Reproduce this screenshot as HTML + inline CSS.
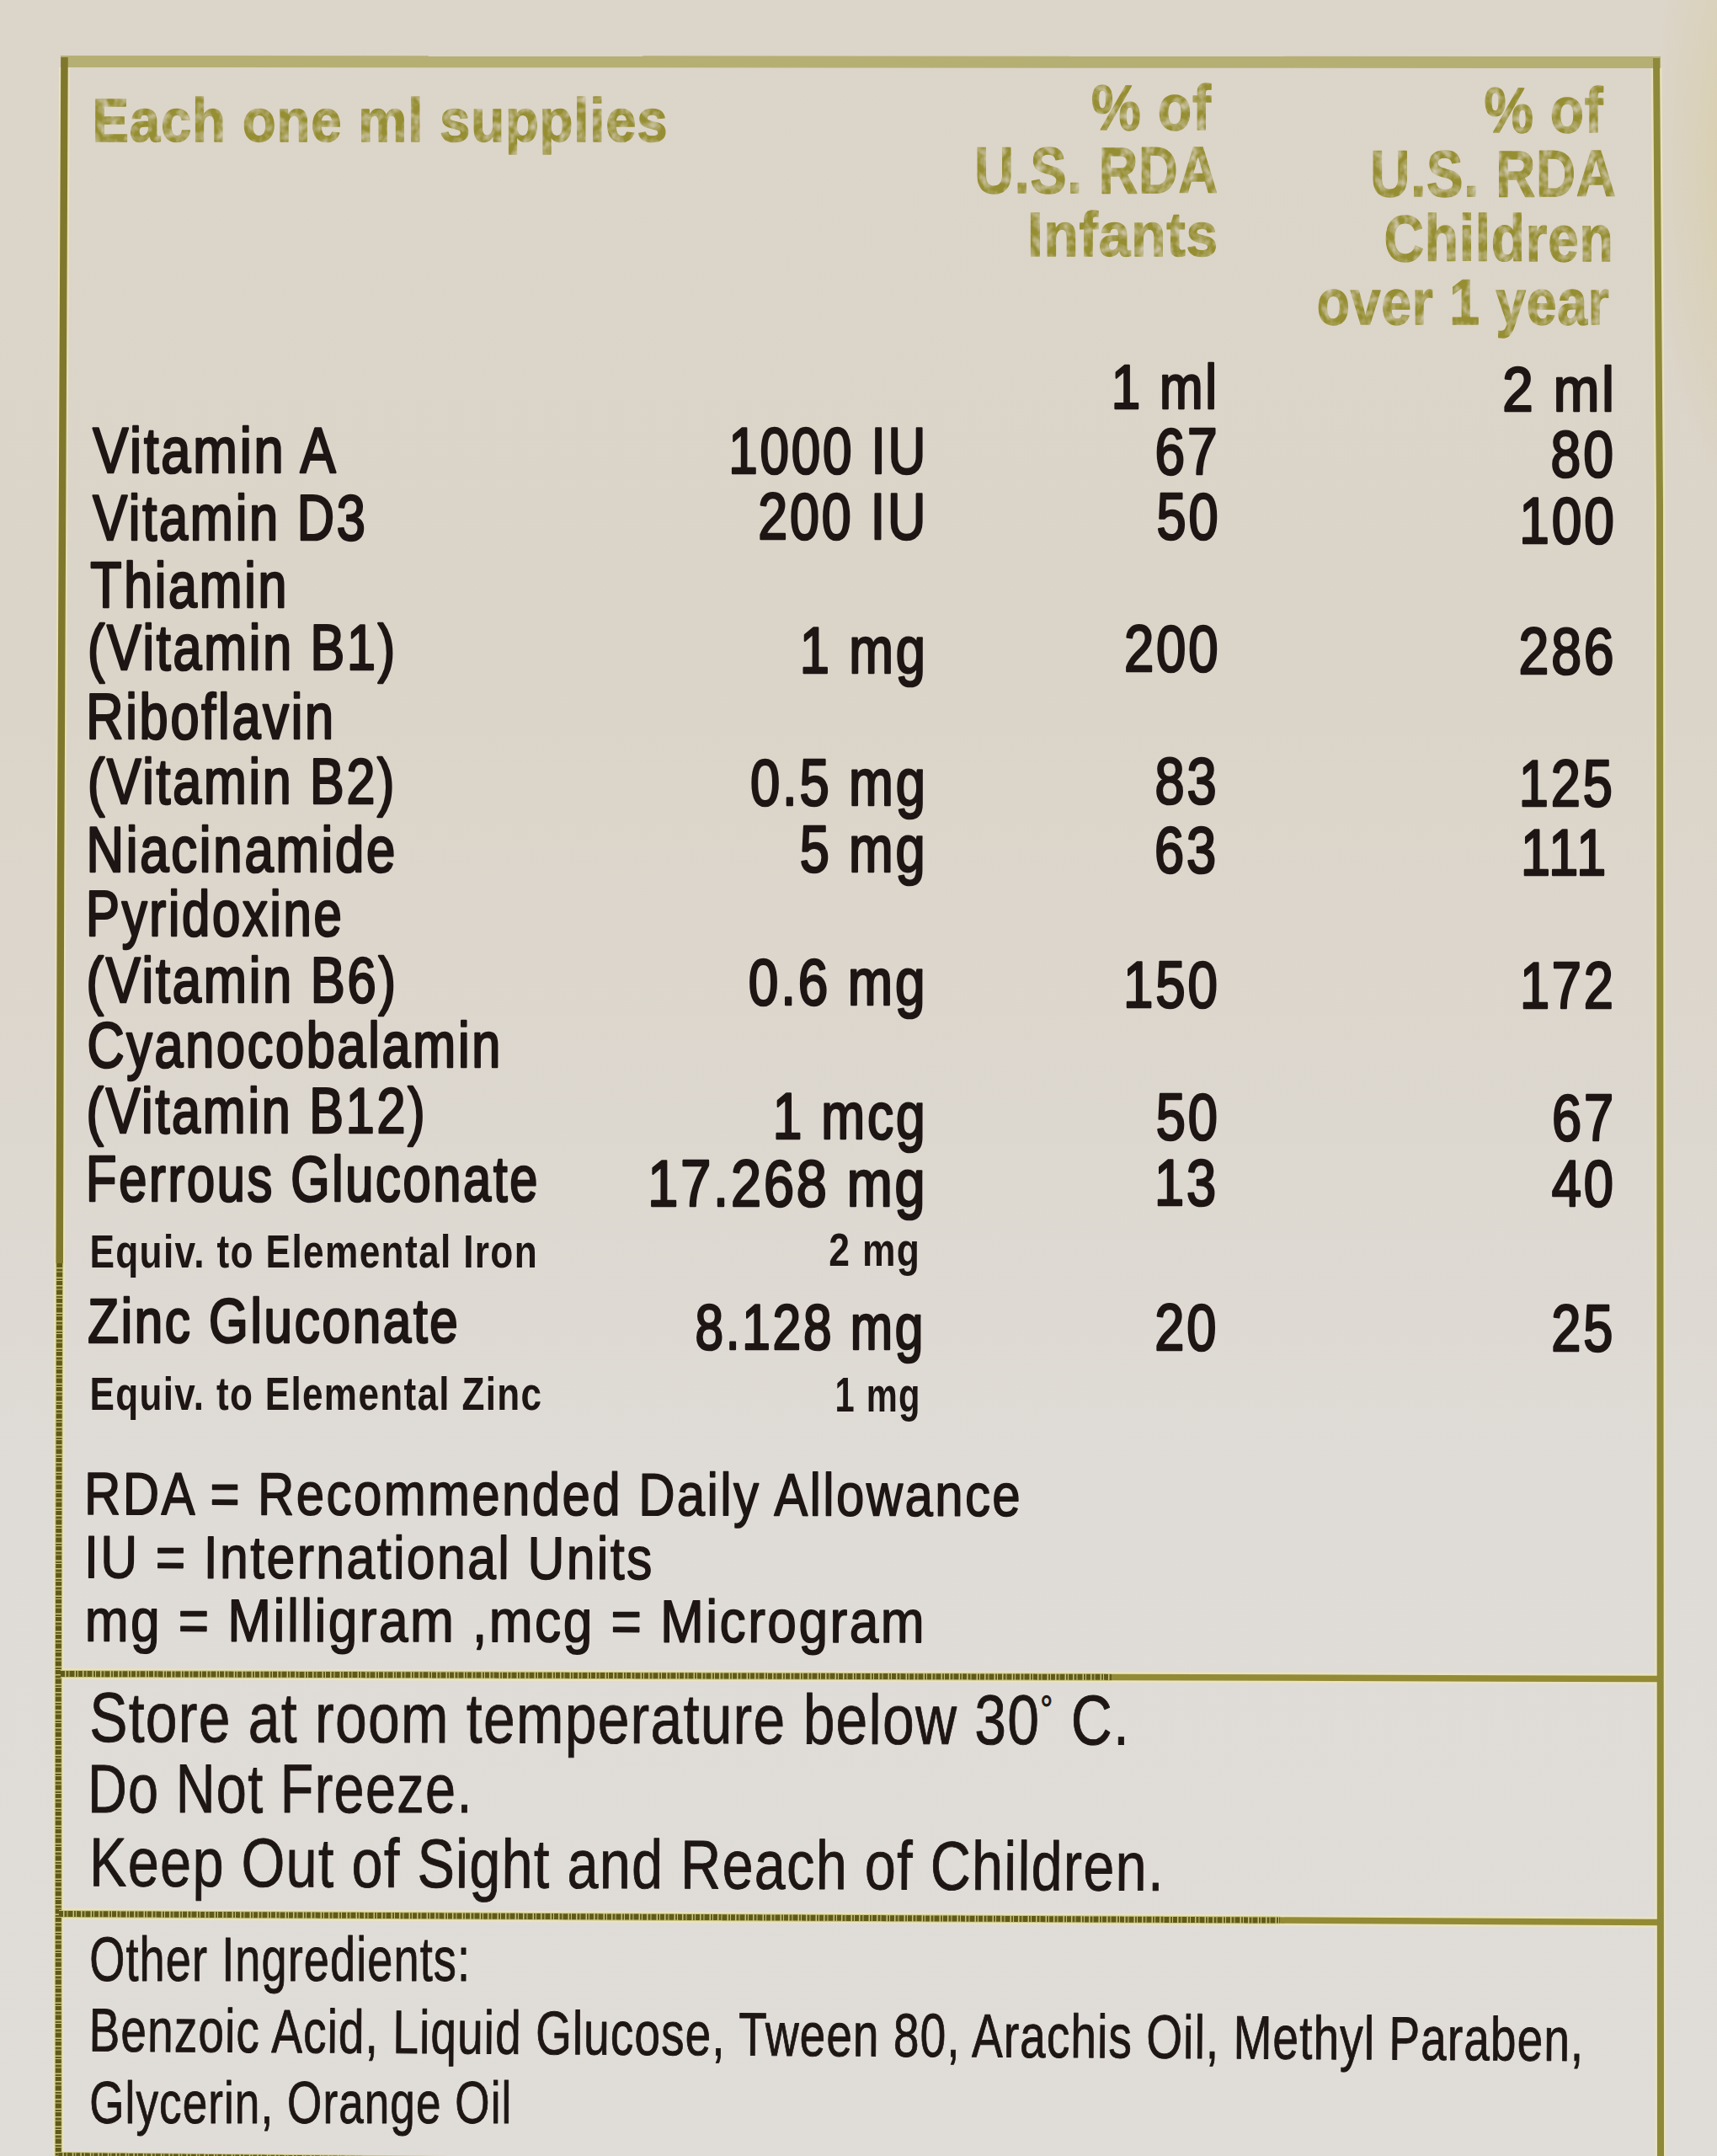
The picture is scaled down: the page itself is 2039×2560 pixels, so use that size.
<!DOCTYPE html>
<html><head><meta charset="utf-8">
<style>
html,body{margin:0;padding:0;width:2039px;height:2560px;overflow:hidden;background:#ddd8cd;}
svg{display:block;position:absolute;left:0;top:0;}
text{font-family:"Liberation Sans",sans-serif;}
.tb{font-weight:400;fill:#1d1614;stroke:#1d1614;stroke-width:2.7px;stroke-linejoin:round;}
.tr{font-weight:400;fill:#1d1614;stroke:#1d1614;stroke-width:1.6px;stroke-linejoin:round;}
.hb{font-weight:700;fill:#968e32;stroke:#968e32;stroke-width:1.4px;stroke-linejoin:round;filter:url(#rough);}
.cb{font-weight:700;fill:#1d1614;}
.cr{font-weight:400;fill:#1d1614;stroke:#1d1614;stroke-width:0.9px;stroke-linejoin:round;}
</style></head><body>
<svg width="2039" height="2560" viewBox="0 0 2039 2560">
<defs>
<linearGradient id="bg" x1="0" y1="0" x2="0" y2="1">
<stop offset="0" stop-color="#dcd5ca"/>
<stop offset="0.3" stop-color="#dbd4c8"/>
<stop offset="0.55" stop-color="#ddd8d0"/>
<stop offset="0.68" stop-color="#dfdbd6"/>
<stop offset="1" stop-color="#e0ddd8"/>
</linearGradient>
<radialGradient id="stain" cx="0.5" cy="0.5" r="0.5">
<stop offset="0" stop-color="#d4c890" stop-opacity="0.55"/>
<stop offset="1" stop-color="#d4c890" stop-opacity="0"/>
</radialGradient>
<filter id="rough" x="-5%" y="-20%" width="110%" height="140%">
<feTurbulence type="fractalNoise" baseFrequency="0.09" numOctaves="2" seed="7" result="n"/>
<feColorMatrix in="n" type="matrix" values="0 0 0 0 0  0 0 0 0 0  0 0 0 0 0  0 0 0 -1.6 1.6" result="a"/>
<feComposite in="SourceGraphic" in2="a" operator="in" result="t"/>
<feMerge><feMergeNode in="t"/></feMerge>
</filter>
</defs>
<rect x="0" y="0" width="2039" height="2560" fill="url(#bg)"/>
<ellipse cx="2075" cy="190" rx="115" ry="400" fill="url(#stain)"/>
<!-- borders: halos -->
<g fill="none" stroke="#ece6b8" stroke-opacity="0.7" stroke-width="13">
<polyline points="76.5,80 72,1040 69.3,2000 69.3,2560"/>
<polyline points="1967,80 1971,600 1972,2560"/>
<polyline points="72,1987.5 1968,1993.5"/>
<polyline points="70,2272.5 1968,2282.5"/>
</g>
<polyline points="72,73 1972,74" fill="none" stroke="#b5af74" stroke-width="14"/>
<polyline points="76.5,68 72,1040 70.7,1500" fill="none" stroke="#7f772c" stroke-width="8.5"/>
<polyline points="70.7,1500 69.3,2000 69.3,2560" fill="none" stroke="#c9c37e" stroke-width="9"/>
<polyline points="70.7,1500 69.3,2000 69.3,2560" fill="none" stroke="#605a1a" stroke-width="7" stroke-dasharray="5 1.5 3 1 6 1.5 2 1"/>
<polyline points="1967,69 1971,600 1972,2560" fill="none" stroke="#8e883a" stroke-width="8"/>
<polyline points="72,1987.5 1320,1991.4" fill="none" stroke="#c9c37e" stroke-width="9"/>
<polyline points="72,1987.5 1320,1991.4" fill="none" stroke="#605a1a" stroke-width="7" stroke-dasharray="5 1.5 3 1 6 1.5 2 1"/>
<polyline points="1320,1991.4 1968,1993.5" fill="none" stroke="#938a36" stroke-width="7.5"/>
<polyline points="70,2272.5 1520,2280.1" fill="none" stroke="#c9c37e" stroke-width="9"/>
<polyline points="70,2272.5 1520,2280.1" fill="none" stroke="#605a1a" stroke-width="7" stroke-dasharray="5 1.5 3 1 6 1.5 2 1"/>
<polyline points="1520,2280.1 1968,2282.5" fill="none" stroke="#938a36" stroke-width="7.5"/>
<polyline points="69.3,2559.5 1970,2580" fill="none" stroke="#c9c37e" stroke-width="9"/>
<polyline points="69.3,2559.5 1970,2580" fill="none" stroke="#605a1a" stroke-width="7" stroke-dasharray="5 1.5 3 1 6 1.5 2 1"/>
<text class="hb" transform="translate(109.4 167.6) scale(0.9030 1)" font-size="72.4" letter-spacing="0.87">Each one ml supplies</text>
<text class="hb" transform="translate(1296.1 153.6) scale(0.8714 1)" font-size="75.9" letter-spacing="0.91">% of</text>
<text class="hb" transform="translate(1157.3 229.1) scale(0.8205 1)" font-size="78.7" letter-spacing="0.94">U.S. RDA</text>
<text class="hb" transform="translate(1219.9 303.6) scale(0.9141 1)" font-size="73.9" letter-spacing="0.89">Infants</text>
<text class="hb" transform="translate(1762.5 156.9) scale(0.8665 1)" font-size="75.9" letter-spacing="0.91">% of</text>
<text class="hb" transform="translate(1627.3 232.6) scale(0.8286 1)" font-size="78.7" letter-spacing="0.94">U.S. RDA</text>
<text class="hb" transform="translate(1643.5 309.5) scale(0.8360 1)" font-size="78.7" letter-spacing="0.94">Children</text>
<text class="hb" transform="translate(1563.7 385.2) scale(0.8468 1)" font-size="75.9" letter-spacing="0.91">over 1 year</text>
<text class="tb" transform="translate(1319.8 484.5) scale(0.8333 1)" font-size="74.3" letter-spacing="3.35">1 ml</text>
<text class="tb" transform="translate(1784.3 488.0) scale(0.8816 1)" font-size="74.3" letter-spacing="3.35">2 ml</text>
<text class="tb" transform="translate(110.2 561.0) scale(0.8266 1)" font-size="76.4" letter-spacing="3.44">Vitamin A</text>
<text class="tb" transform="translate(110.2 641.4) scale(0.8027 1)" font-size="76.4" letter-spacing="3.44">Vitamin D3</text>
<text class="tb" transform="translate(107.2 720.6) scale(0.7980 1)" font-size="76.4" letter-spacing="3.44">Thiamin</text>
<text class="tb" transform="translate(104.0 795.2) scale(0.7995 1)" font-size="76.4" letter-spacing="3.44">(Vitamin B1)</text>
<text class="tb" transform="translate(102.2 876.7) scale(0.8021 1)" font-size="76.4" letter-spacing="3.44">Riboflavin</text>
<text class="tb" transform="translate(104.0 953.6) scale(0.7977 1)" font-size="76.4" letter-spacing="3.44">(Vitamin B2)</text>
<text class="tb" transform="translate(102.4 1034.5) scale(0.8072 1)" font-size="76.4" letter-spacing="3.44">Niacinamide</text>
<text class="tb" transform="translate(102.1 1111.2) scale(0.7835 1)" font-size="76.4" letter-spacing="3.44">Pyridoxine</text>
<text class="tb" transform="translate(102.6 1189.8) scale(0.8044 1)" font-size="76.4" letter-spacing="3.44">(Vitamin B6)</text>
<text class="tb" transform="translate(103.4 1266.7) scale(0.7999 1)" font-size="76.4" letter-spacing="3.44">Cyanocobalamin</text>
<text class="tb" transform="translate(102.6 1345.3) scale(0.7996 1)" font-size="76.4" letter-spacing="3.44">(Vitamin B12)</text>
<text class="tb" transform="translate(102.1 1425.7) scale(0.7796 1)" font-size="76.4" letter-spacing="3.44">Ferrous Gluconate</text>
<text class="cb" transform="translate(106.4 1504.6) scale(0.7933 1)" font-size="55.8" letter-spacing="1.67">Equiv. to Elemental Iron</text>
<text class="tb" transform="translate(104.2 1593.8) scale(0.8092 1)" font-size="74.3" letter-spacing="3.35">Zinc Gluconate</text>
<text class="cb" transform="translate(106.4 1674.1) scale(0.7903 1)" font-size="55.8" letter-spacing="1.67">Equiv. to Elemental Zinc</text>
<text class="tb" transform="translate(865.2 562.2) scale(0.7975 1)" font-size="77.8" letter-spacing="3.50">1000 IU</text>
<text class="tb" transform="translate(900.2 640.3) scale(0.8072 1)" font-size="77.8" letter-spacing="3.50">200 IU</text>
<text class="tb" transform="translate(949.7 798.7) scale(0.8138 1)" font-size="77.8" letter-spacing="3.50">1 mg</text>
<text class="tb" transform="translate(890.9 955.9) scale(0.8149 1)" font-size="77.8" letter-spacing="3.50">0.5 mg</text>
<text class="tb" transform="translate(949.8 1034.7) scale(0.8115 1)" font-size="77.8" letter-spacing="3.50">5 mg</text>
<text class="tb" transform="translate(888.7 1193.2) scale(0.8221 1)" font-size="77.8" letter-spacing="3.50">0.6 mg</text>
<text class="tb" transform="translate(917.8 1351.6) scale(0.8003 1)" font-size="77.8" letter-spacing="3.50">1 mcg</text>
<text class="tb" transform="translate(769.2 1432.0) scale(0.8326 1)" font-size="77.8" letter-spacing="3.50">17.268 mg</text>
<text class="cb" transform="translate(984.2 1502.9) scale(0.7882 1)" font-size="56.4" letter-spacing="1.69">2 mg</text>
<text class="tb" transform="translate(825.4 1601.5) scale(0.7910 1)" font-size="76.4" letter-spacing="3.44">8.128 mg</text>
<text class="cb" transform="translate(991.4 1675.9) scale(0.7259 1)" font-size="57.4" letter-spacing="1.72">1 mg</text>
<text class="tb" transform="translate(1371.5 562.8) scale(0.8237 1)" font-size="77.8" letter-spacing="3.50">67</text>
<text class="tb" transform="translate(1373.6 639.6) scale(0.8116 1)" font-size="77.8" letter-spacing="3.50">50</text>
<text class="tb" transform="translate(1334.9 796.7) scale(0.8164 1)" font-size="77.8" letter-spacing="3.50">200</text>
<text class="tb" transform="translate(1371.6 954.0) scale(0.8116 1)" font-size="77.8" letter-spacing="3.50">83</text>
<text class="tb" transform="translate(1371.0 1035.8) scale(0.8116 1)" font-size="77.8" letter-spacing="3.50">63</text>
<text class="tb" transform="translate(1333.9 1195.5) scale(0.8181 1)" font-size="77.8" letter-spacing="3.50">150</text>
<text class="tb" transform="translate(1372.8 1352.6) scale(0.8116 1)" font-size="77.8" letter-spacing="3.50">50</text>
<text class="tb" transform="translate(1371.0 1431.0) scale(0.8116 1)" font-size="77.8" letter-spacing="3.50">13</text>
<text class="tb" transform="translate(1371.2 1602.5) scale(0.8116 1)" font-size="77.8" letter-spacing="3.50">20</text>
<text class="tb" transform="translate(1841.5 566.4) scale(0.8262 1)" font-size="77.8" letter-spacing="3.50">80</text>
<text class="tb" transform="translate(1804.3 644.7) scale(0.8228 1)" font-size="77.8" letter-spacing="3.50">100</text>
<text class="tb" transform="translate(1803.5 800.3) scale(0.8272 1)" font-size="77.8" letter-spacing="3.50">286</text>
<text class="tb" transform="translate(1803.8 957.0) scale(0.8116 1)" font-size="77.8" letter-spacing="3.50">125</text>
<text class="tb" transform="translate(1806.0 1039.3) scale(0.8085 1)" font-size="77.8" letter-spacing="3.50">111</text>
<text class="tb" transform="translate(1804.9 1196.5) scale(0.8120 1)" font-size="77.8" letter-spacing="3.50">172</text>
<text class="tb" transform="translate(1843.0 1354.0) scale(0.8116 1)" font-size="77.8" letter-spacing="3.50">67</text>
<text class="tb" transform="translate(1842.8 1432.0) scale(0.8116 1)" font-size="77.8" letter-spacing="3.50">40</text>
<text class="tb" transform="translate(1842.2 1603.5) scale(0.8116 1)" font-size="77.8" letter-spacing="3.50">25</text>
<text class="tr" transform="translate(100.0 1798.1) rotate(0.093) scale(0.8412 1)" font-size="71.3" letter-spacing="2.85">RDA = Recommended Daily Allowance</text>
<text class="tr" transform="translate(99.9 1873.3) rotate(0.146) scale(0.8509 1)" font-size="71.3" letter-spacing="2.85">IU = International Units</text>
<text class="tr" transform="translate(100.7 1948.4) rotate(0.104) scale(0.8721 1)" font-size="71.3" letter-spacing="2.85">mg = Milligram ,mcg = Microgram</text>
<text class="cr" transform="translate(106.2 2068.0) rotate(0.164) scale(0.8104 1)" font-size="83.5" letter-spacing="1.67">Store at room temperature below 30<tspan font-size="55%" dy="-26">°</tspan><tspan dy="26"> C.</tspan></text>
<text class="cr" transform="translate(103.9 2151.6) scale(0.7910 1)" font-size="82.0" letter-spacing="1.64">Do Not Freeze.</text>
<text class="cr" transform="translate(106.1 2239.3) rotate(0.249) scale(0.8110 1)" font-size="82.0" letter-spacing="1.64">Keep Out of Sight and Reach of Children.</text>
<text class="cr" transform="translate(106.2 2351.7) scale(0.7378 1)" font-size="73.4" letter-spacing="1.47">Other Ingredients:</text>
<text class="cr" transform="translate(105.6 2435.5) rotate(0.370) scale(0.7550 1)" font-size="72.8" letter-spacing="1.46">Benzoic Acid, Liquid Glucose, Tween 80, Arachis Oil, Methyl Paraben,</text>
<text class="cr" transform="translate(106.2 2521.0) scale(0.7460 1)" font-size="71.2" letter-spacing="1.42">Glycerin, Orange Oil</text>
</svg>
</body></html>
